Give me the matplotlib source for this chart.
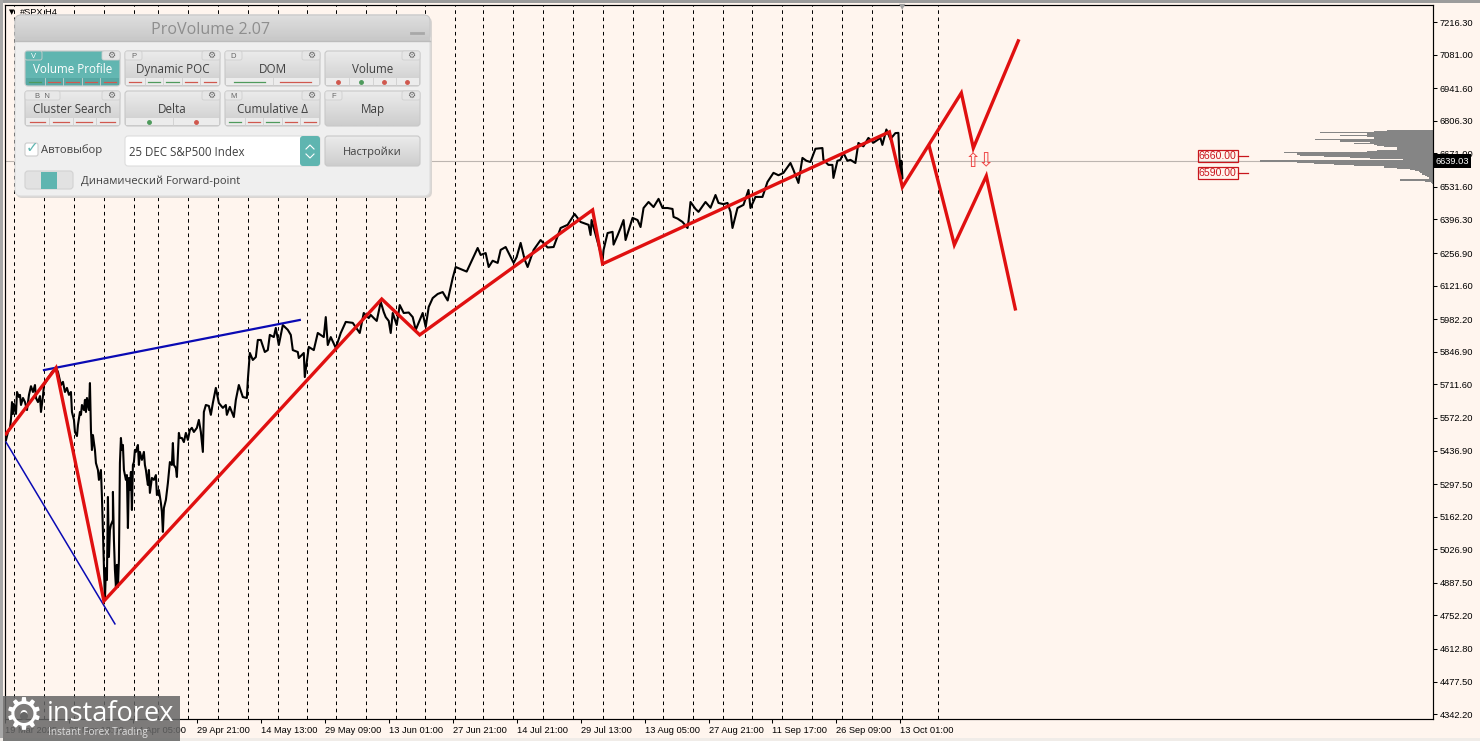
import numpy as np
import matplotlib
matplotlib.use("Agg")
import matplotlib.pyplot as plt
from matplotlib.colors import LinearSegmentedColormap
from matplotlib.patches import FancyBboxPatch, Rectangle, Circle

BG = "#fff5ee"
TEAL = "#5fb5b0"
RED = "#e01010"
BLUE = "#0a0ab4"

# price path, x is bar position on the chart
spx_x = [5,7,9,10,11,12,13,15,16,18,19,20,22,24,26,28,30,32,34,35,37,39,40,42,43,45,47,49,51,53,55,
         57,60,62,64,66,68,70,71,73,74,76,77,79,80,81,83,84,85,86,87,88,89,90,91,92,94,95,97,98,99,
         100,101,102,103,104,105,106,107,108,109,110,112,112,113,114,115,116,117,118,119,120,121,122,123,125,126,127,128,129,130,131,
         132,133,134,135,136,137,138,139,141,143,144,145,146,147,148,149,151,153,155,156,158,160,161,162,163,165,167,
         168,169,171,172,173,175,176,178,179,181,183,185,187,189,191,193,196,198,200,202,203,205,
         208,210,212,215,218,222,225,226,229,233,235,238,242,246,247,249,252,255,257,260,264,267,269,273,275,278,282,287,290,292,297,298,303,304,307,308,313,317,323,325,327,330,335,
         340,345,352,359,363,368,370,373,376,380,383,385,388,390,392,396,399,403,408,412,415,422,425,
         428,432,437,442,447,452,455,462,466,470,477,480,485,488,492,497,500,505,510,513,516,520,524,527,533,540,547,553,560,567,574,580,588,590,591,
         602,603,607,612,613,617,620,623,625,632,637,640,643,648,653,658,662,667,672,673,677,682,687,688,690,695,698,705,710,715,718,723,727,730,732,737,743,748,750,755,762,
         767,773,778,783,790,793,798,802,806,810,815,822,823,828,832,833,837,840,843,847,850,855,858,863,868,873,880,882,886,890,895,898,899,900,901,902]
spx_price = [5480,5514,5530,5568,5638,5589,5630,5589,5680,5659,5668,5626,5655,5638,5605,5668,5704,5680,5709,5655,5638,5663,5597,5663,5709,5722,5738,5750,5763,5771,5780,
             5763,5709,5722,5680,5697,5668,5680,5597,5564,5514,5497,5543,5597,5585,5626,5605,5647,5597,5655,5626,5605,5717,5522,5439,5501,5439,5385,5356,5315,5335,
             5356,5244,5094,4953,4816,4949,4899,5244,4995,5107,5128,5148,5265,5065,4941,4870,4962,4870,4982,5385,5489,5439,5460,5356,5315,5335,5115,5323,5273,5348,5190,
             5377,5389,5439,5431,5447,5460,5377,5431,5398,5431,5377,5356,5323,5294,5356,5261,5323,5315,5335,5252,5273,5219,5182,5099,5198,5232,5302,
             5348,5389,5377,5468,5377,5364,5327,5510,5489,5489,5472,5510,5481,5522,5531,5514,5531,5564,5514,5431,5597,5626,
             5622,5585,5634,5697,5634,5614,5626,5585,5618,5576,5647,5709,5659,5655,5730,5842,5813,5825,5896,5896,5846,5854,5917,5908,5946,5875,5958,5938,5917,5854,5846,5821,5842,5742,5834,5867,5854,5925,5908,5991,5875,5908,5863,
             5925,5971,5967,5925,6008,5987,6000,5987,5975,6054,6012,5991,5975,5925,6008,5958,6041,6008,6010,5991,5938,6008,5950,
             6033,6070,6087,6095,6060,6153,6199,6187,6180,6216,6278,6249,6257,6199,6225,6216,6270,6282,6241,6216,6240,6299,6230,6199,6270,6311,6280,6282,6361,6374,6419,6386,6374,6332,6394,
             6228,6270,6340,6345,6292,6330,6361,6394,6311,6403,6394,6365,6444,6469,6448,6482,6444,6444,6440,6407,6400,6386,6361,6390,6469,6440,6428,6469,6445,6498,6465,6460,6465,6428,6361,6444,6457,6519,6444,6490,6490,
             6552,6590,6580,6590,6631,6602,6548,6652,6640,6635,6690,6693,6644,6623,6623,6569,6640,6644,6673,6640,6644,6631,6714,6700,6735,6715,6735,6706,6770,6730,6755,6756,6660,6587,6640,6569]

# thick red wave marks and blue channel lines
wave_x = [5,55,103,381,419,592,602,889,902,961,973,1018]
wave_price = [5506,5780,4812,6066,5917,6436,6212,6760,6531,6922,6693,7138]
alt_x = [929,954,986,1015]
alt_price = [6698,6291,6577,6025]
blue_low_x = [5,114]
blue_low_price = [5472,4717]
blue_top_x = [43,299]
blue_top_price = [5771,5979]

separators = [12.7,42.7,72.7,102.7,132.7,156.7,186.7,216.7,246.7,276.7,306.7,335.7,365.7,395.7,424.7,454.7,
              482.5,512.5,542.5,572.5,602.7,632.7,662.7,692.7,722.3,752,781.7,811.7,841.7,871.7,901.7,937.7]

y_ticks = [7216.30,7081.00,6941.60,6806.30,6671.00,6531.60,6396.30,6256.90,6121.60,5982.20,5846.90,
           5711.60,5572.20,5436.90,5297.50,5162.20,5026.90,4887.50,4752.20,4612.80,4477.50,4342.20]
x_ticks = [4,68,132,196,260,324,388,452,516,580,644,708,772,836,900]
x_labels = ["19 Mar 2025","28 Mar 13:00","14 Apr 05:00","29 Apr 21:00","14 May 13:00","29 May 09:00","13 Jun 01:00",
            "27 Jun 21:00","14 Jul 21:00","29 Jul 13:00","13 Aug 05:00","27 Aug 21:00","11 Sep 17:00","26 Sep 09:00","13 Oct 01:00"]

last_price = 6639.03
levels = [6660.00,6590.00]

profile_price = [6768,6764,6760,6756,6751,6747,6743,6739,6735,6731,6727,6722,6718,6714,6710,6706,6702,6698,6693,6689,
                 6685,6681,6677,6673,6668,6664,6660,6656,6652,6648,6644,6639,6635,6631,6627,6623,6619,6614,6610,6606,
                 6602,6598,6594,6590,6585,6581,6577,6573,6569,6565,6560,6556,6552,6548,6544]
profile_vol = [16,46,59,113,66,93,69,66,59,59,118,93,63,59,79,59,56,49,36,29,
               36,56,66,149,136,133,126,109,83,63,30,173,133,136,119,99,79,49,36,29,
               23,18,14,13,11,9,8,6,4,4,33,8,4,2,1]

# panel buttons: name, hotkey, marks under the label
btn_names = ["Volume Profile","Dynamic POC","DOM","Volume","Cluster Search","Delta","Cumulative Δ","Map"]
btn_keys = ["V","P","D","","B  N","","M","F"]
btn_marks = ["grrrr","rggrr","gr","rgrr","rrrr","gr","grgrr",""]
btn_dots = [False,False,False,True,False,True,False,False]

fig = plt.figure(figsize=(14.8,7.41),dpi=100,facecolor=BG)
plt.rcParams['font.family'] = ['Liberation Sans','DejaVu Sans']
ax = fig.add_axes([5/1480,22/741,1428/1480,714/741],facecolor=BG)
ax.set_xlim(5,1433)
ax.set_ylim(4322,7287)

for s in separators:
    ax.axvline(s,color="black",lw=0.72,dashes=(3.6,3.6),zorder=1)
ax.axhline(last_price,color="#bdb5b0",lw=0.8,zorder=1)

ax.fill_betweenx(profile_price,[1433-v for v in profile_vol],1433,step="mid",color="#858585",lw=0,zorder=2)
ax.plot(spx_x,spx_price,color="black",lw=1.5,zorder=3)
ax.plot(blue_low_x,blue_low_price,color=BLUE,lw=1.1,zorder=4)
ax.plot(blue_top_x,blue_top_price,color=BLUE,lw=1.6,zorder=4)
ax.plot(wave_x,wave_price,color=RED,lw=2.4,zorder=5,solid_joinstyle="miter")
ax.plot(alt_x,alt_price,color=RED,lw=2.4,zorder=5,solid_joinstyle="miter")

for lv in levels:
    ax.text(1236.5,lv,"%.2f" % lv,color="#c8161d",fontsize=7.6,ha="right",va="center",zorder=6,
            bbox=dict(boxstyle="square,pad=0.12",fc="none",ec="#c8161d",lw=0.9))
    ax.plot([1238,1248],[lv,lv],color="#c8161d",lw=0.9,zorder=6)
ax.text(972.5,last_price,"⇧",color="#ee4444",fontsize=14,ha="center",va="center",family="DejaVu Sans",zorder=6)
ax.text(985.5,last_price,"⇩",color="#ee4444",fontsize=14,ha="center",va="center",family="DejaVu Sans",zorder=6)

ax.yaxis.tick_right()
ax.set_yticks(y_ticks)
ax.set_yticklabels(["%.2f" % t for t in y_ticks])
ax.set_xticks(x_ticks)
ax.set_xticklabels(x_labels,ha="left")
ax.tick_params(axis="y",length=3,width=0.75,pad=1.5,labelsize=6.7,colors="black")
ax.tick_params(axis="x",length=3,width=0.75,pad=2,labelsize=6.7,colors="black")
for sp in ax.spines.values():
    sp.set_linewidth(0.85)
ax.text(1469,last_price,"%.2f" % last_price,color="white",fontsize=6.7,ha="right",va="center",clip_on=False,zorder=8,
        bbox=dict(boxstyle="square,pad=0.22",fc="black",ec="black",lw=0))

# overlay in screen pixels for the indicator panel and the logo
ui = fig.add_axes([0,0,1,1],facecolor="none")
ui.set_xlim(0,1480)
ui.set_ylim(741,0)
ui.axis("off")

ui.add_patch(Rectangle((0,0),1480,2.5,fc="#9c9c9c",lw=0))
ui.add_patch(Rectangle((0,0),3,741,fc="#a8a8a8",lw=0))
ui.add_patch(Rectangle((0,738),1480,3,fc="#f0ece8",lw=0))
ui.text(20,12,"#SPX,H4",fontsize=6.7,color="black",va="center")
ui.text(12,12,"▼",fontsize=5,color="black",va="center",ha="center",family="DejaVu Sans")
ui.text(902,7,"▼",fontsize=6,color="#a0a0a0",va="center",ha="center",family="DejaVu Sans")

def rbox(x0,y0,x1,y1,fc,ec="none",r=3,z=10,lw=0.8):
    p = FancyBboxPatch((x0+r,y0+r),x1-x0-2*r,y1-y0-2*r,boxstyle="round,pad=%g,rounding_size=%g" % (r,r),
                       fc=fc,ec=ec,lw=lw,zorder=z)
    ui.add_patch(p)
    return p

def gradbox(x0,y0,x1,y1,top,bottom,r=3,z=12):
    p = rbox(x0,y0,x1,y1,"none",ec="#c8c8c8",r=r,z=z+0.5)
    cmap = LinearSegmentedColormap.from_list("g",[top,bottom])
    im = ui.imshow(np.linspace(0,1,32).reshape(-1,1),extent=(x0,x1,y1,y0),cmap=cmap,aspect="auto",zorder=z)
    im.set_clip_path(p)

rbox(16,17,432,198,"#d9d5d2",r=6,z=9)
rbox(15,15,430,196,"#efefef",ec="#dddddd",r=6)
gradbox(15,15,430,41,"#dedede","#c8c8c8",r=6,z=11)
ui.add_patch(Rectangle((15,37),415,4,fc="#c9c9c9",lw=0,zorder=11.7))
ui.plot([15,430],[41,41],color="#bcbcbc",lw=1,zorder=12)
ui.text(211,29.5,"ProVolume 2.07",family="Open Sans",fontsize=11.6,color="#8e8e8e",ha="center",va="center",zorder=12)
ui.plot([411,423],[33,33],color="#a8a8a8",lw=2,zorder=12)

px_x = [25,125,225,325]
px_y = [51,91]
btn_w = 95
btn_h = 35
for i,name in enumerate(btn_names):
    x0 = px_x[i % 4]
    y0 = px_y[i // 4]
    active = i == 0
    if active:
        gradbox(x0,y0,x0+btn_w,y0+btn_h,TEAL,"#66b8b3")
    else:
        gradbox(x0,y0,x0+btn_w,y0+btn_h,"#ebebeb","#cdcdcd")
    marks = btn_marks[i]
    if marks:
        strip = "#56a8a3" if active else "#ececec"
        ui.add_patch(Rectangle((x0+1,y0+27),btn_w-2,7,fc=strip,lw=0,zorder=13))
        seg = (btn_w-2)/len(marks)
        for j,m in enumerate(marks):
            col = "#4e9a5c" if m == "g" else "#d0584e"
            cx = x0+1+seg*(j+0.5)
            if btn_dots[i]:
                ui.plot([cx],[y0+31],"o",ms=2.5,color=col,zorder=14)
            else:
                ui.plot([cx-seg*0.33,cx+seg*0.33],[y0+30.5,y0+30.5],color=col,lw=0.9,zorder=14)
            if j > 0:
                ui.plot([x0+1+seg*j]*2,[y0+27,y0+34],color="#cfcfcf",lw=0.6,zorder=14)
    ui.text(x0+btn_w/2,y0+18.5,name,family=["Open Sans","DejaVu Sans"],fontsize=8.4,ha="center",va="center",
            color="white" if active else "#404040",zorder=15)
    if btn_keys[i]:
        wk = 17 if len(btn_keys[i]) == 1 else 35
        rbox(x0,y0,x0+wk,y0+9,TEAL if active else "#e8e8e8",ec="#cfcfcf",r=2,z=14,lw=0.6)
        ui.text(x0+wk/2,y0+5,btn_keys[i],fontsize=5.5,ha="center",va="center",color="#ffffff" if active else "#666666",zorder=15)
    rbox(x0+btn_w-18,y0,x0+btn_w,y0+9,"#e6e6e6",ec="#cfcfcf",r=2,z=14,lw=0.6)
    ui.text(x0+btn_w-9,y0+4.5,"⚙",family="DejaVu Sans",fontsize=6.5,ha="center",va="center",color="#666666",zorder=15)

# checkbox, selector, settings
rbox(25,143,38,156,"white",ec="#cccccc",r=2,z=12)
ui.text(32,148,"✓",family="DejaVu Sans",fontsize=11,ha="center",va="center",color=TEAL,zorder=13)
ui.text(41,150.5,"Автовыбор",family="Open Sans",fontsize=8.1,va="center",color="#404040",zorder=13)
rbox(125,136,320,166,"white",ec="#dddddd",r=3,z=12)
rbox(300,136,320,166,TEAL,r=3,z=13)
ui.plot([306,310,314],[149,145,149],color="white",lw=0.8,zorder=14)
ui.plot([306,310,314],[154,158,154],color="white",lw=0.8,zorder=14)
ui.text(129,152.5,"25 DEC S&P500 Index",family="Open Sans",fontsize=8.3,va="center",color="#404040",zorder=13)
gradbox(325,136,420,166,"#ebebeb","#cdcdcd")
ui.text(372.5,152.5,"Настройки",family="Open Sans",fontsize=8,ha="center",va="center",color="#404040",zorder=13)
rbox(25,171,73,189,"#e2e2e2",ec="#d2d2d2",r=3,z=12)
ui.add_patch(Rectangle((41,171.5),16,17,fc=TEAL,lw=0,zorder=13))
ui.text(81,181.5,"Динамический Forward-point",family="Open Sans",fontsize=8,va="center",color="#404040",zorder=13)

# logo
ui.add_patch(Rectangle((3,696),177,45,fc="#666666",alpha=0.85,lw=0,zorder=20))
ui.text(24,716,"⚙",family="DejaVu Sans",fontsize=32,color="white",ha="center",va="center",zorder=21)
ui.add_patch(Circle((24,716),4,fc="#666666",lw=0,zorder=22))
ui.text(47,714,"instaforex",family="Open Sans",fontsize=19.5,color="white",va="center",zorder=21)
ui.text(48,732,"Instant Forex Trading",family="Open Sans",fontsize=7.2,color="#dddddd",va="center",zorder=21)

ui.set_xlim(0,1480)
ui.set_ylim(741,0)
fig.savefig("out.png",dpi=100,facecolor=BG)
